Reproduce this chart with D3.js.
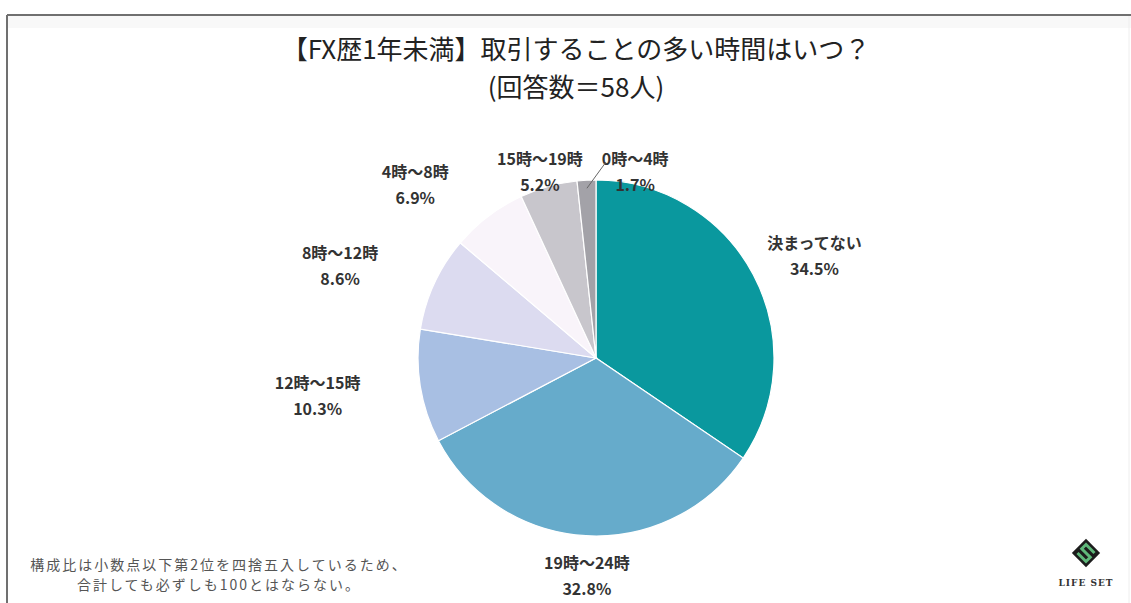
<!DOCTYPE html>
<html>
<head>
<meta charset="utf-8">
<script src="https://cdn.jsdelivr.net/npm/d3@7"></script>
<style>
  body { margin: 0; background: #fff; }
  svg { display: block; font-family: "Noto Sans CJK JP", "Noto Sans", sans-serif; }
</style>
</head>
<body>
<script>
// data
const categories = ["決まってない", "19時～24時", "12時～15時", "8時～12時", "4時～8時", "15時～19時", "0時～4時"];
const shares = [34.5, 32.8, 10.3, 8.6, 6.9, 5.2, 1.7];
const sliceColors = ["#0a989e", "#66abcb", "#a8bfe3", "#dcdbf0", "#f9f4fa", "#c8c6cc", "#a3a2a8"];
const titleLines = ["【FX歴1年未満】取引することの多い時間はいつ？", "(回答数＝58人)"];
const noteLines = ["構成比は小数点以下第2位を四捨五入しているため、", "合計しても必ずしも100とはならない。"];

// label placement around the pie (layout only): angle in degrees from 12 o'clock, distance from centre
const labelAngle = [65, 182.4, 262.2, 289.8, 313.7, 343.2, 11.9];
const labelDist = [241, 218, 281, 272, 250, 194, 190];

const width = 1131, height = 603;
const cx = 596, cy = 358, r = 178;

const svg = d3.select("body").append("svg")
    .attr("width", width)
    .attr("height", height);

// frame
svg.append("rect").attr("x", 8).attr("y", 16).attr("width", width - 8).attr("height", 12).attr("fill", "#f8f8f8");
svg.append("line").attr("x1", 7).attr("x2", width).attr("y1", 15).attr("y2", 15)
    .attr("stroke", "#707070").attr("stroke-width", 2);
svg.append("line").attr("x1", 7).attr("x2", 7).attr("y1", 15).attr("y2", height)
    .attr("stroke", "#707070").attr("stroke-width", 2);
svg.append("line").attr("x1", 1129).attr("x2", 1129).attr("y1", 16).attr("y2", height)
    .attr("stroke", "#eeeeee").attr("stroke-width", 1);

// title
svg.append("g")
    .attr("text-anchor", "middle")
    .attr("fill", "#222")
    .style("font-size", "26px")
    .style("font-weight", 400)
    .selectAll("text")
    .data(titleLines)
    .join("text")
    .attr("x", 576)
    .attr("y", (d, i) => 59 + i * 38)
    .text(d => d);

const data = categories.map((c, i) => ({
    name: c, value: shares[i], color: sliceColors[i],
    la: labelAngle[i] * Math.PI / 180, dist: labelDist[i]
}));

const pie = d3.pie()
    .sort(null)
    .value(d => d.value);

const arcs = pie(data);

const arc = d3.arc()
    .innerRadius(0)
    .outerRadius(r);

const g = svg.append("g")
    .attr("transform", `translate(${cx},${cy})`);

g.selectAll("path")
    .data(arcs)
    .join("path")
    .attr("d", arc)
    .attr("fill", d => d.data.color)
    .attr("stroke", "#fff")
    .attr("stroke-width", 1.2);

const mid = d => (d.startAngle + d.endAngle) / 2;

// labels
const labels = g.append("g")
    .attr("text-anchor", "middle")
    .attr("fill", "#333")
    .style("font-size", "16px")
    .style("font-weight", 700);

labels.selectAll("g")
    .data(arcs)
    .join("g")
    .attr("transform", d => `translate(${Math.sin(d.data.la) * d.data.dist},${-Math.cos(d.data.la) * d.data.dist})`)
    .each(function(d) {
        const t = d3.select(this);
        t.append("text").attr("y", -7).text(d.data.name);
        t.append("text").attr("y", 19).text(d.data.value.toFixed(1) + "%");
    });

// leader line for the thin slice
const last = arcs[arcs.length - 1];
const a0 = mid(last);
g.append("line")
    .attr("x1", Math.sin(a0) * (r - 8))
    .attr("y1", -Math.cos(a0) * (r - 8))
    .attr("x2", 10)
    .attr("y2", -196)
    .attr("stroke", "#666")
    .attr("stroke-width", 1);

// footnote
svg.append("g")
    .attr("text-anchor", "middle")
    .attr("fill", "#555")
    .style("font-size", "14px")
    .style("letter-spacing", "2px")
    .selectAll("text")
    .data(noteLines)
    .join("text")
    .attr("x", 219)
    .attr("y", (d, i) => 570 + i * 20)
    .text(d => d);

// logo
const logo = svg.append("g").attr("transform", "translate(1086,553) rotate(45)");
logo.append("rect").attr("x", -10).attr("y", -10).attr("width", 20).attr("height", 20).attr("fill", "#1c1c1c");
logo.append("path")
    .attr("d", "M6,-6 H-6 V0 H6 V6 H-6")
    .attr("fill", "none")
    .attr("stroke", "#5fb87a")
    .attr("stroke-width", 3);
svg.append("text")
    .attr("x", 1086)
    .attr("y", 586)
    .attr("text-anchor", "middle")
    .attr("fill", "#333")
    .style("font-family", "'DejaVu Serif', serif")
    .style("font-size", "9px")
    .style("font-weight", 700)
    .style("letter-spacing", "1px")
    .text("LIFE SET");
</script>
</body>
</html>
